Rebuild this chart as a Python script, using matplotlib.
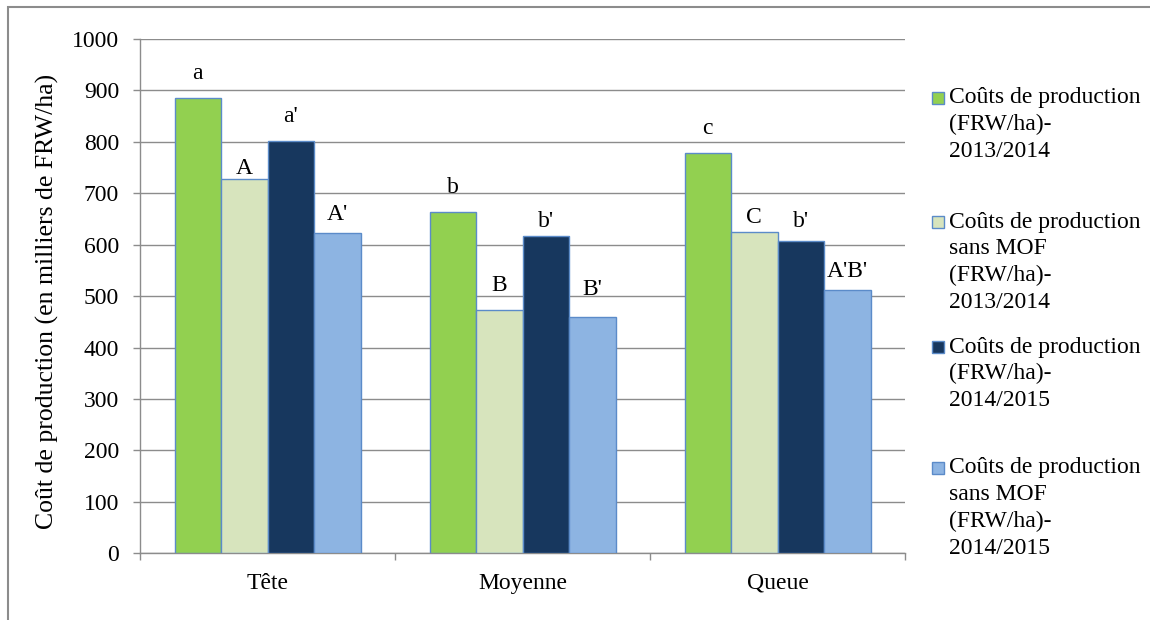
import matplotlib
matplotlib.use("Agg")
import matplotlib.pyplot as plt
import matplotlib.patches as mpatches
import numpy as np

# ---- data ----
categories = ["Tête", "Moyenne", "Queue"]
series_names = [
    ["Coûts de production", "(FRW/ha)-", "2013/2014"],
    ["Coûts de production", "sans MOF", "(FRW/ha)-", "2013/2014"],
    ["Coûts de production", "(FRW/ha)-", "2014/2015"],
    ["Coûts de production", "sans MOF", "(FRW/ha)-", "2014/2015"],
]
cout_2013 = [886, 664, 779]
cout_sans_mof_2013 = [727, 473, 625]
cout_2014 = [802, 616, 608]
cout_sans_mof_2014 = [623, 460, 512]
series_values = [cout_2013, cout_sans_mof_2013, cout_2014, cout_sans_mof_2014]
letters = [
    ["a", "b", "c"],
    ["A", "B", "C"],
    ["a'", "b'", "b'"],
    ["A'", "B'", "A'B'"],
]
yticks = [0, 100, 200, 300, 400, 500, 600, 700, 800, 900, 1000]

# ---- styles ----
colors = ["#92D050", "#D7E4BD", "#17375E", "#8DB4E2"]
edge = "#5B8BC9"
grid_c = "#8C8C8C"
FONT = "Liberation Serif"
FS = 17
# label gap above bar (points)
label_gap = [
    [10, 10, 10],
    [0, 10, 3],
    [10, 3, 6],
    [6, 12, 6],
]

W, H = 1150, 620
fig = plt.figure(figsize=(W / 100, H / 100), dpi=100)
plt.rcParams["font.family"] = [FONT, "DejaVu Serif"]

ax = fig.add_axes([140 / W, (H - 553.3) / H, (905 - 140) / W, (553.3 - 39) / H])

n = len(series_values)
bw = 186 / 255 / n
x = np.arange(len(categories))
for i, vals in enumerate(series_values):
    pos = x - 2 * bw + (i + 0.5) * bw
    bars = ax.bar(pos, vals, width=bw, color=colors[i], edgecolor=edge,
                  linewidth=1.0, zorder=3)
    for j, b in enumerate(bars):
        ax.annotate(letters[i][j], (b.get_x() + b.get_width() / 2, b.get_height()),
                    xytext=(0, label_gap[i][j]), textcoords="offset points",
                    ha="center", va="bottom", fontsize=FS, family=FONT, zorder=4)

ax.set_xlim(-0.5, len(categories) - 0.5)
ax.set_ylim(0, 1000)
ax.set_yticks(yticks)
ax.set_yticklabels([str(t) for t in yticks], fontsize=FS, family=FONT)
ax.yaxis.grid(True, color=grid_c, linewidth=1.0, zorder=0)
ax.set_axisbelow(True)

# category boundaries as major ticks, labels as minor
ax.set_xticks(np.arange(len(categories) + 1) - 0.5)
ax.set_xticklabels([])
ax.set_xticks(x, minor=True)
ax.set_xticklabels(categories, minor=True, fontsize=FS, family=FONT)
ax.tick_params(axis="x", which="minor", length=0, pad=14)
ax.tick_params(axis="x", which="major", length=5, width=1.0, color=grid_c, direction="out")
ax.tick_params(axis="y", length=5, width=1.0, color=grid_c, direction="out", pad=10)

for s in ["top", "right"]:
    ax.spines[s].set_visible(False)
for s in ["left", "bottom"]:
    ax.spines[s].set_color(grid_c)
    ax.spines[s].set_linewidth(1.0)

fig.text(47 / W, 1 - 301 / H, "Coût de production (en milliers de FRW/ha)",
         rotation=90, ha="center", va="center", fontsize=18.5, family=FONT)

# ---- legend (manual) ----
first_line_y = [98, 222, 347, 468]
line_step = 26.7
for i, lines in enumerate(series_names):
    y0 = first_line_y[i]
    fig.patches.append(mpatches.Rectangle((932 / W, 1 - (y0 + 6) / H), 12 / W, 12 / H,
                                          transform=fig.transFigure, facecolor=colors[i],
                                          edgecolor=edge, linewidth=1.0))
    for k, ln in enumerate(lines):
        fig.text(949 / W, 1 - (y0 + k * line_step) / H, ln, ha="left", va="center",
                 fontsize=FS, family=FONT)

# outer border
fig.patches.append(mpatches.Rectangle((8 / W, -0.05), 1.2, 1 - 7 / H + 0.05,
                                      transform=fig.transFigure, fill=False,
                                      edgecolor=grid_c, linewidth=1.5))

fig.savefig("out.png", dpi=100)
